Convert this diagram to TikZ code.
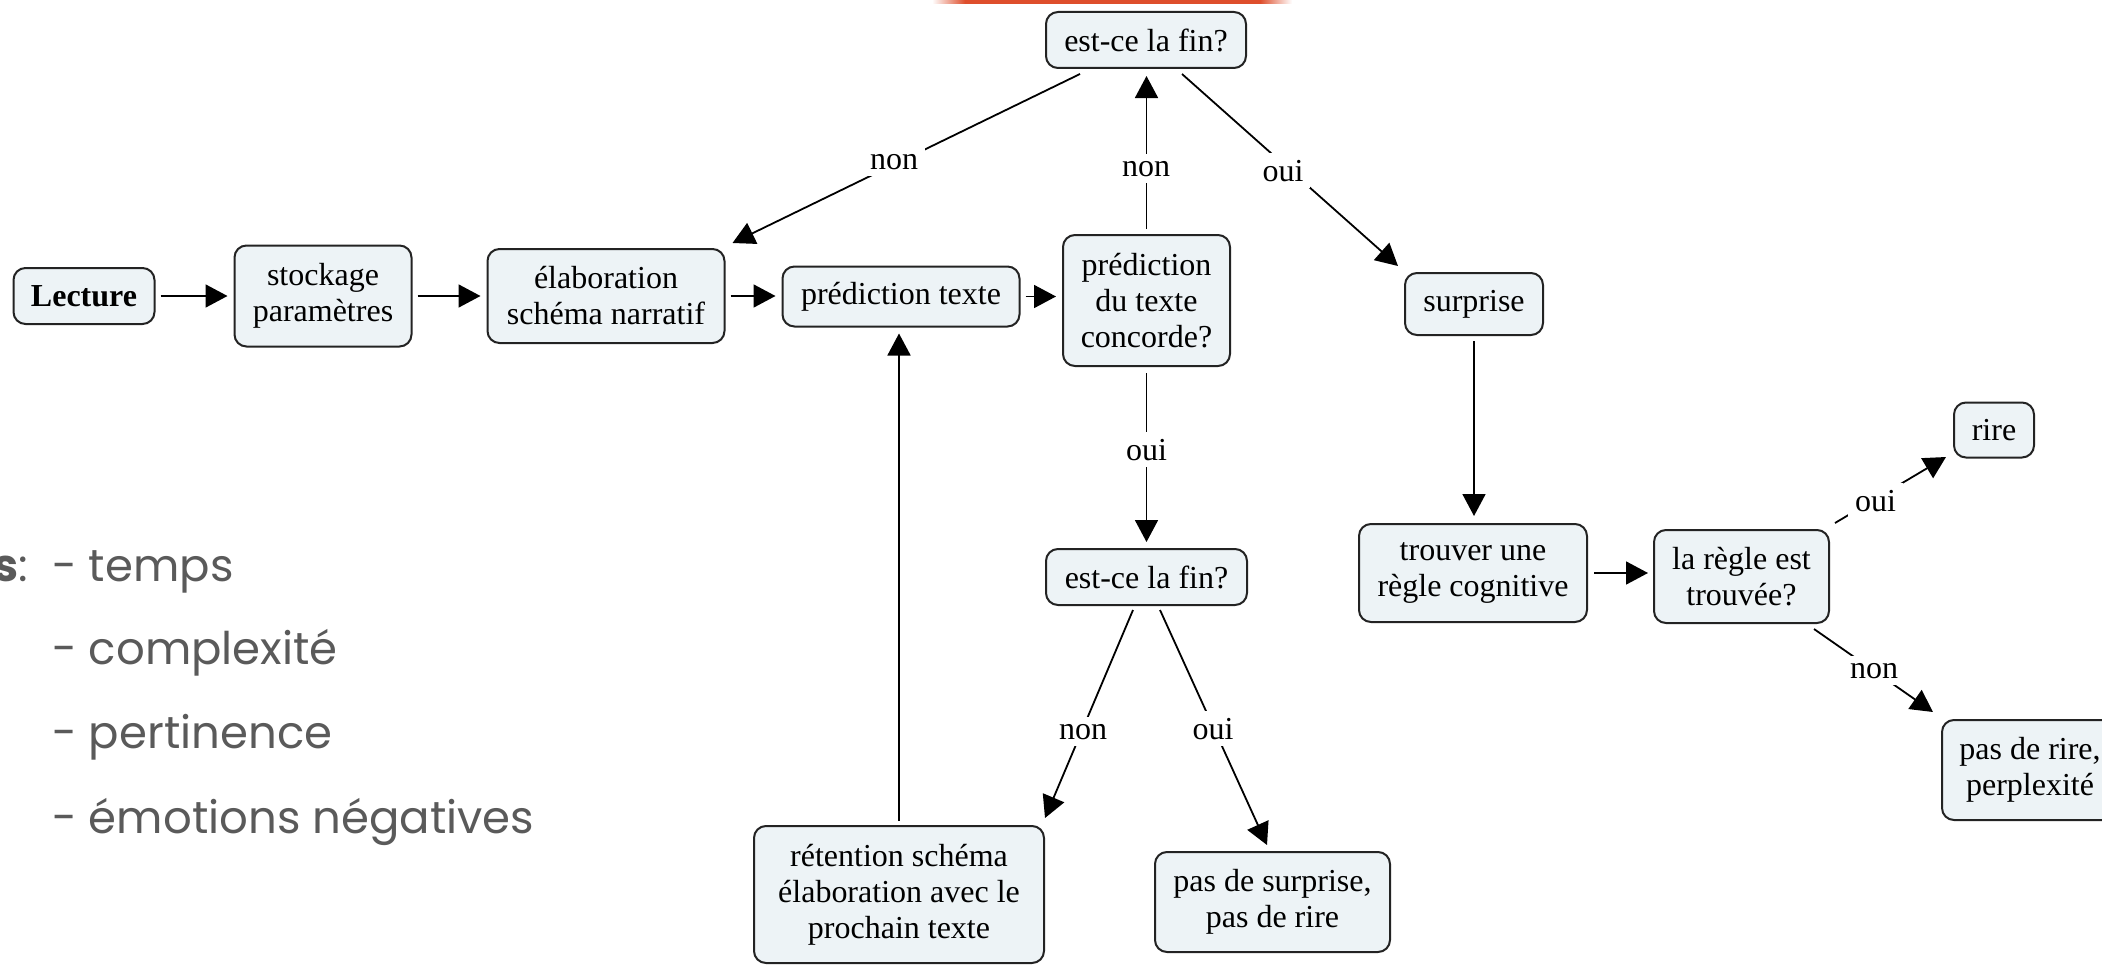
\documentclass[tikz,border=0pt]{standalone}
\usepackage{fontspec}
\setmainfont{Liberation Serif}
\newfontfamily\gothic{Poppins}
\usetikzlibrary{arrows.meta,calc}
\definecolor{boxfill}{RGB}{237,243,246}
\definecolor{boxline}{RGB}{35,35,35}
\definecolor{txtgray}{RGB}{90,90,90}
\definecolor{barorange}{RGB}{222,78,44}
\begin{document}
\begin{tikzpicture}[x=1pt,y=-1pt,
  box/.style={draw=boxline, line width=2pt, fill=boxfill, rounded corners=12pt,
    align=center, inner sep=0pt, font=\fontsize{32}{36}\selectfont},
  lbl/.style={fill=white, inner sep=7pt, anchor=base, font=\fontsize{32}{36}\selectfont},
  arr/.style={draw=black, line width=1.8pt, -{Triangle[length=22pt,width=23pt]}},
  side/.style={anchor=base west, text=txtgray, inner sep=0pt, font=\gothic\fontsize{45}{54}\selectfont}]
\useasboundingbox (0,0) rectangle (2102,966);
\clip (0,0) rectangle (2102,966);
% top orange bar
\shade[left color=white, right color=barorange] (932,0) rectangle (965,4);
\fill[barorange] (965,0) rectangle (1260,4);
\shade[left color=barorange, right color=white] (1260,0) rectangle (1292,4);
% nodes
\node[box, minimum width=141pt, minimum height=56pt] (lect) at (84,296) {\textbf{Lecture}};
\node[box, minimum width=177pt, minimum height=101pt] (stock) at (323,296) {stockage\\paramètres};
\node[box, minimum width=237pt, minimum height=94pt] (elab) at (606,296) {élaboration\\schéma narratif};
\node[box, minimum width=237pt, minimum height=60pt] (pred) at (901,296.5) {prédiction texte};
\node[box, minimum width=167pt, minimum height=131pt] (conc) at (1146.5,300.5) {prédiction\\du texte\\concorde?};
\node[box, minimum width=200pt, minimum height=56pt] (fin1) at (1146,40) {est-ce la fin?};
\node[box, minimum width=138pt, minimum height=62pt] (surp) at (1474,304) {surprise};
\node[box, minimum width=201pt, minimum height=56pt] (fin2) at (1146.5,577) {est-ce la fin?};
\node[box, minimum width=290pt, minimum height=137pt] (ret) at (899,894.5) {rétention schéma\\élaboration avec le\\prochain texte};
\node[box, minimum width=235pt, minimum height=100pt] (pds) at (1272.5,902) {pas de surprise,\\pas de rire};
\node[box, minimum width=228pt, minimum height=98pt] (trouv) at (1473,573) {trouver une\\règle cognitive};
\node[box, minimum width=175pt, minimum height=93pt] (regle) at (1741.5,576.5) {la règle est\\trouvée?};
\node[box, minimum width=80pt, minimum height=55pt] (rire) at (1994,430) {rire};
\node[box, minimum width=176pt, minimum height=100pt] (pdr) at (2030,770) {pas de rire,\\perplexité};
% straight connectors
\draw[arr, shorten <=5pt, shorten >=6pt] (lect) -- (stock);
\draw[arr, shorten <=5pt, shorten >=6pt] (stock) -- (elab);
\draw[arr, shorten <=5pt, shorten >=6pt] (elab.east) -- (elab.east -| pred.west);
\draw[arr, shorten <=5pt, shorten >=6pt] (pred.east) -- (pred.east -| conc.west);
\draw[arr, shorten <=5pt, shorten >=7pt] (conc.north) -- (conc.north |- fin1.south);
\draw[arr, shorten <=6pt, shorten >=6pt] (conc.south) -- (conc.south |- fin2.north);
\draw[arr, shorten <=4pt, shorten >=6pt] (ret.north) -- (ret.north |- pred.south);
\draw[arr, shorten <=5pt, shorten >=7pt] (surp.south) -- (surp.south |- trouv.north);
\draw[arr, shorten <=6pt, shorten >=5pt] (trouv.east) -- (trouv.east -| regle.west);
% diagonal connectors
\draw[arr] ($(fin1.south)+(-66,5)$) -- ($(elab.north east)+(7,-5)$);
\draw[arr] ($(fin1.south)+(36,5)$) -- ($(surp.north west)+(-6,-6)$);
\draw[arr] ($(fin2.south)+(-13.5,4)$) -- ($(ret.north east)+(0,-7)$);
\draw[arr] ($(fin2.south)+(13.5,4)$) -- ($(pds.north)+(-5.5,-6)$);
\draw[arr] ($(regle.north east)+(5,-6)$) -- ($(rire.south west)+(-7,-1.5)$);
\draw[arr] ($(regle.south east)+(-16,5)$) -- ($(pdr.north west)+(-8,-7)$);
% link labels
\node[lbl] (l1) at (1146,176) {non};
\node[lbl] (l2) at (894,169) {non};
\node[lbl] (l3) at (1283,181) {oui};
\node[lbl] (l4) at (1146.5,460) {oui};
\node[lbl] (l5) at (1083,739) {non};
\node[lbl] (l6) at (1213,739) {oui};
\node[lbl] (l7) at (1875.5,511) {oui};
\node[lbl] (l8) at (1874,678) {non};
% side text
\node[side, anchor=base east] (s0) at (28,581) {{\bfseries s}:};
\node[side] (s1) at (52,581) {- temps};
\node[side] (s2) at (52,664) {- complexité};
\node[side] (s3) at (52,748) {- pertinence};
\node[side] (s4) at (52,833) {- émotions négatives};
\end{tikzpicture}
\end{document}
